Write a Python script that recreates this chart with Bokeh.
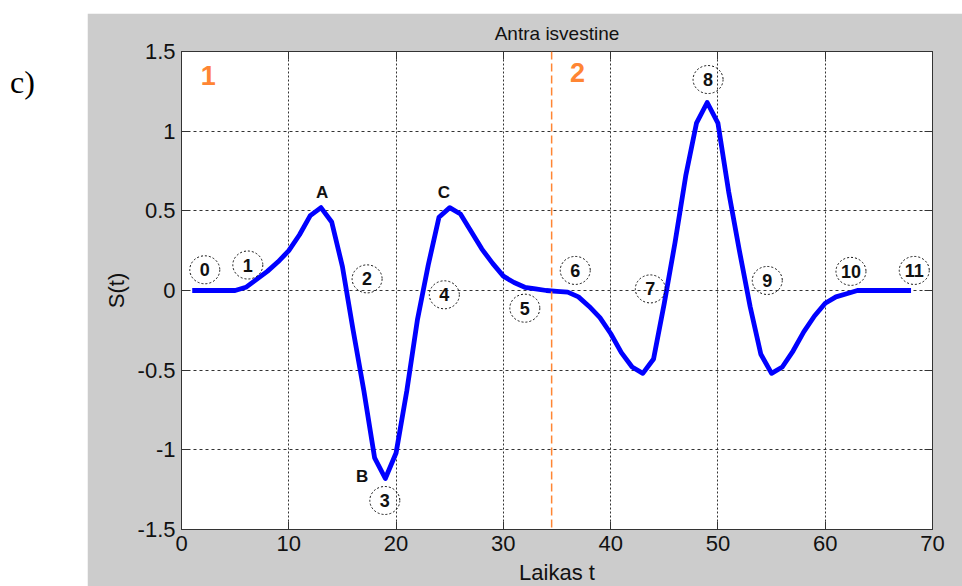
from bokeh.plotting import figure
from bokeh.models import Span, LinearAxis, FixedTicker, Div, ColumnDataSource, Range1d
from bokeh.layouts import row
from bokeh.core.properties import value
from bokeh.embed import file_html
from bokeh.resources import INLINE

# ---- data ----
t = list(range(1, 69))
s = [0, 0, 0, 0, 0, 0.02, 0.07, 0.12, 0.18, 0.25, 0.35, 0.47, 0.52, 0.43, 0.15,
     -0.25, -0.63, -1.05, -1.18, -1.02, -0.63, -0.18, 0.16, 0.46, 0.52, 0.48, 0.37,
     0.26, 0.17, 0.09, 0.05, 0.02, 0.01, 0.0,
     -0.005, -0.01, -0.04, -0.10, -0.17, -0.27, -0.39, -0.48, -0.52, -0.43, -0.08,
     0.30, 0.72, 1.05, 1.18, 1.05, 0.62, 0.25, -0.10, -0.40, -0.52, -0.48, -0.38,
     -0.26, -0.16, -0.08, -0.04, -0.02, 0, 0, 0, 0, 0, 0]

circle_labels = ["0", "1", "2", "3", "4", "5", "6", "7", "8", "9", "10", "11"]
circle_t = [2.17, 6.18, 17.3, 18.95, 24.5, 32.0, 36.7, 43.7, 49.08, 54.6, 62.4, 68.3]
circle_s = [0.13, 0.16, 0.073, -1.318, -0.027, -0.111, 0.126, 0.01, 1.324, 0.063, 0.12, 0.126]

letter_labels = ["A", "B", "C"]
letter_t = [13.1, 16.84, 24.45]
letter_s = [0.617, -1.17, 0.613]

region_labels = ["1", "2"]
region_t = [2.5, 36.9]
region_s = [1.35, 1.37]
region_divider_t = 34.5

x_ticks = [0, 10, 20, 30, 40, 50, 60, 70]
y_ticks = [-1.5, -1.0, -0.5, 0.0, 0.5, 1.0, 1.5]
y_tick_labels = ["-1.5", "-1", "-0.5", "0", "0.5", "1", "1.5"]

title_text = "Antra isvestine"
x_label = "Laikas t"
y_label = "S(t)"
panel_label = "c)"

FONT = "Liberation Sans"

p = figure(frame_width=751, frame_height=478,
           x_range=Range1d(0, 70), y_range=Range1d(-1.5, 1.5),
           output_backend="svg", toolbar_location=None,
           min_border_left=94, min_border_right=30, min_border_top=38, min_border_bottom=57,
           border_fill_color="#cccccc", background_fill_color="white",
           outline_line_color="#333333", margin=(13, 0, 0, 0))

p.title.text = title_text
p.title.align = "center"
p.title.text_font = FONT
p.title.text_font_size = "19px"
p.title.text_line_height = 1.0
p.title.text_font_style = "normal"
p.title.text_color = "#111111"
p.title.standoff = 15

for ax in (p.xaxis[0], p.yaxis[0]):
    ax.major_label_text_font = FONT
    ax.major_label_text_font_size = "22px"
    ax.major_label_text_color = "#111111"
    ax.axis_label_text_font = FONT
    ax.axis_label_text_font_size = "22px"
    ax.axis_label_text_font_style = "normal"
    ax.axis_label_text_color = "#111111"
    ax.major_tick_in = 8
    ax.major_tick_out = 0
    ax.minor_tick_line_color = None
    ax.axis_line_color = "#333333"
    ax.major_tick_line_color = "#333333"

p.xaxis.ticker = FixedTicker(ticks=x_ticks)
p.yaxis.ticker = FixedTicker(ticks=y_ticks)
p.yaxis.major_label_overrides = {v: l for v, l in zip(y_ticks, y_tick_labels)}
p.xaxis.axis_label = x_label
p.yaxis.axis_label = y_label
p.xaxis.major_label_standoff = 6
p.yaxis.major_label_standoff = 6
p.xaxis.axis_label_standoff = 6
p.yaxis.axis_label_standoff = 6

for loc, tk in (("above", x_ticks), ("right", y_ticks)):
    ax = LinearAxis(ticker=FixedTicker(ticks=tk), major_label_text_font_size="1px",
                    major_label_text_color=None,
                    major_label_standoff=0, major_tick_in=8, major_tick_out=0,
                    minor_tick_line_color=None, axis_line_color="#333333",
                    major_tick_line_color="#333333")
    p.add_layout(ax, loc)

p.xgrid.ticker = FixedTicker(ticks=x_ticks)
p.ygrid.ticker = FixedTicker(ticks=y_ticks)
p.xgrid.grid_line_color = "#333333"
p.xgrid.grid_line_dash = "2 2"
p.ygrid.grid_line_color = "#333333"
p.ygrid.grid_line_dash = "3 3"

p.add_layout(Span(location=region_divider_t, dimension="height",
                  line_color="#ff8533", line_dash="8 4", line_width=1.5))

p.line(t, s, line_color="#0000ff", line_width=4.8, line_join="round")

csrc = ColumnDataSource(dict(x=circle_t, y=circle_s, text=circle_labels))
p.ellipse(x="x", y="y", width=30, height=28, width_units="screen", height_units="screen",
          source=csrc, fill_color=None, line_color="#111111", line_dash="2 2", line_width=1)
p.text(x="x", y="y", text="text", source=csrc, text_align="center", text_baseline="middle",
       text_font=value(FONT), text_font_style="bold", text_font_size="18px", text_color="#111111")

lsrc = ColumnDataSource(dict(x=letter_t, y=letter_s, text=letter_labels))
p.text(x="x", y="y", text="text", source=lsrc, text_align="center", text_baseline="middle",
       text_font=value(FONT), text_font_style="bold", text_font_size="17px", text_color="#111111")

rsrc = ColumnDataSource(dict(x=region_t, y=region_s, text=region_labels))
p.text(x="x", y="y", text="text", source=rsrc, text_align="center", text_baseline="middle",
       text_font=value(FONT), text_font_style="bold", text_font_size="27px", text_color="#ff8533")

div = Div(text=('<div style="position:relative; left:10px; top:60px; '
                'font-family:\'Liberation Serif\',serif; font-size:32px; color:#000;">'
                + panel_label + '</div>'),
          width=87, height=586, margin=0)

layout = row(div, p, margin=0, spacing=0)
open("out.html", "w").write(file_html(layout, INLINE))
